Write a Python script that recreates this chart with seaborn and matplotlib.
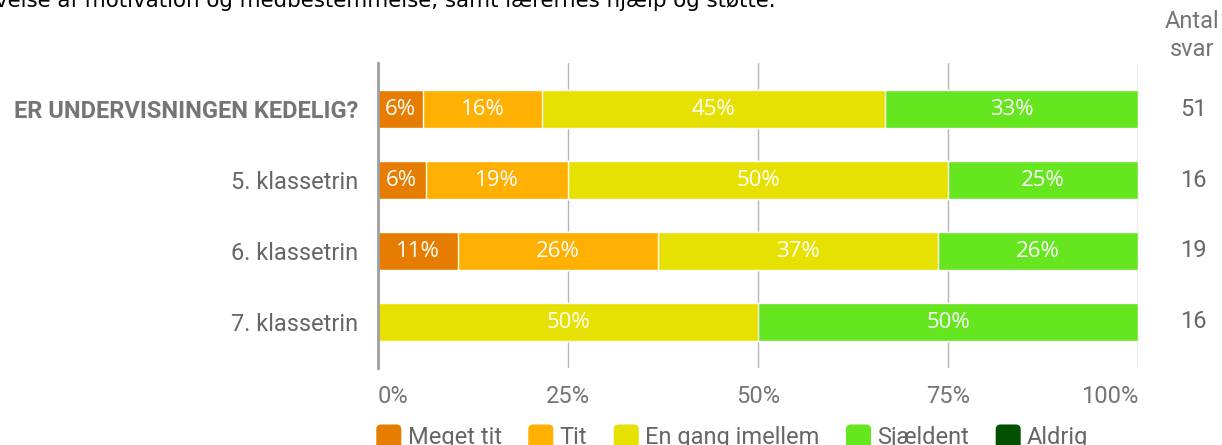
import numpy as np
import pandas as pd
import matplotlib
matplotlib.use("Agg")
import matplotlib.pyplot as plt
from matplotlib.patches import Patch, FancyBboxPatch
from matplotlib.legend_handler import HandlerPatch
import seaborn as sns

# data (percent of answers per group)
categories = ["ER UNDERVISNINGEN KEDELIG?", "5. klassetrin", "6. klassetrin", "7. klassetrin"]
answers = ["Meget tit", "Tit", "En gang imellem", "Sjældent", "Aldrig"]
meget_tit = [5.9, 6.25, 10.53, 0]
tit = [15.7, 18.75, 26.32, 0]
en_gang = [45.1, 50.0, 36.84, 50.0]
sjaeldent = [33.3, 25.0, 26.31, 50.0]
aldrig = [0, 0, 0, 0]
antal_svar = [51, 16, 19, 16]
colors = ["#e67c00", "#ffb000", "#e6e100", "#66e61e", "#005000"]

sns.set_theme(style="white")
plt.rcParams["font.family"] = ["Roboto", "DejaVu Sans"]

df = pd.DataFrame({"cat": categories, "Meget tit": meget_tit, "Tit": tit,
                   "En gang imellem": en_gang, "Sjældent": sjaeldent, "Aldrig": aldrig})
cum = df[answers].cumsum(axis=1)

fig = plt.figure(figsize=(12.22, 4.45), dpi=100)
ax = fig.add_axes([378 / 1222, 1 - 368 / 445, 760 / 1222, 305 / 445])

# stacked bars: draw cumulative totals back to front
for i in reversed(range(len(answers))):
    sns.barplot(x=cum[answers[i]], y=df["cat"], color=colors[i], orient="h",
                width=0.535, saturation=1, ax=ax, zorder=3)

for r in range(len(categories)):
    left = 0
    for a in answers:
        v = df.loc[r, a]
        if v > 0:
            ax.text(left + v / 2, r + 0.01, f"{round(v):.0f}%", ha="center", va="center",
                    color="white", fontsize=16, family=["Open Sans", "DejaVu Sans"], zorder=4)
        left += v

ax.set_xlim(0, 100)
ax.set_ylim(3.65, -0.65)
ax.set_xticks([0, 25, 50, 75, 100])
ax.set_xticklabels(["0%", "25%", "50%", "75%", "100%"])
ax.grid(axis="x", color="#b5b5b5", lw=1, zorder=0)
ax.set_axisbelow(True)
for s in ["top", "right", "bottom"]:
    ax.spines[s].set_visible(False)
ax.spines["left"].set_color("#9e9e9e")
ax.spines["left"].set_linewidth(2)
ax.spines["left"].set_zorder(5)
ax.set_xlabel("")
ax.set_ylabel("")
ax.tick_params(axis="x", length=0, pad=12, labelsize=17, labelcolor="#757575")
ax.tick_params(axis="y", length=0, pad=14, labelsize=17, labelcolor="#666666")
xlabs = ax.get_xticklabels()
xlabs[0].set_horizontalalignment("left")
xlabs[-1].set_horizontalalignment("right")
ylabs = ax.get_yticklabels()
ylabs[0].set_fontweight("bold")
ylabs[0].set_color("#757575")

# answer counts column
fig.text(1192 / 1222, 1 - 22 / 445, "Antal", ha="center", va="center", fontsize=17, color="#757575")
fig.text(1192 / 1222, 1 - 50 / 445, "svar", ha="center", va="center", fontsize=17, color="#757575")
for r, n in enumerate(antal_svar):
    y = ax.transData.transform((0, r))[1] / fig.bbox.height
    fig.text(1193 / 1222, y, str(n), ha="center", va="center", fontsize=17, color="#666666")

# clipped heading at the very top
fig.text(-0.004, 1 - 7 / 445, "velse af motivation og medbestemmelse, samt lærernes hjælp og støtte.",
         ha="left", va="baseline", fontsize=15.4, color="black", family="DejaVu Sans")


# rounded squares in the legend
def rounded(legend, orig_handle, xdescent, ydescent, width, height, fontsize):
    return FancyBboxPatch((-xdescent, -ydescent - 2), width, height + 2,
                          boxstyle="round,pad=0,rounding_size=3")


handles = [Patch(facecolor=c, edgecolor=c) for c in colors]
leg = fig.legend(handles, answers, loc="center left", bbox_to_anchor=(377 / 1222, 1 - 437 / 445),
                 ncol=5, frameon=False, fontsize=17, handlelength=1.0, handleheight=1.0,
                 handletextpad=0.3, columnspacing=1.15, borderaxespad=0, borderpad=0,
                 handler_map={Patch: HandlerPatch(patch_func=rounded)})
for t in leg.get_texts():
    t.set_color("#666666")

fig.savefig("out.png", dpi=100)
